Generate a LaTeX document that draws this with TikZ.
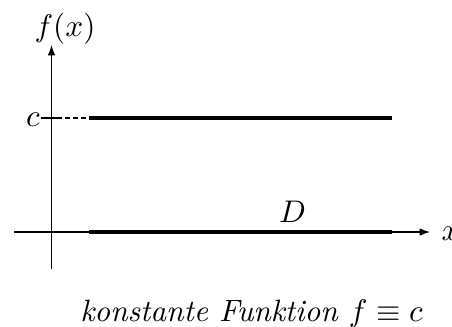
\documentclass[tikz,border=0pt]{standalone}
\usetikzlibrary{arrows.meta}
\begin{document}
\begin{tikzpicture}[x=0.35pt,y=-0.35pt,
  axis/.style={line width=0.4pt,-{Latex[length=3.6pt,width=2.6pt]}},
  graphline/.style={line width=1.45pt},
  guide/.style={line width=0.4pt,dash pattern=on 1.75pt off 1.05pt},
  lbl/.style={inner sep=0pt,anchor=base,font=\fontsize{10.8pt}{13pt}\selectfont}]
\useasboundingbox (0,0) rectangle (452,326);
\coordinate (ybot) at (51.5,269);
\coordinate (ytop) at (51.5,45);
\coordinate (xleft) at (14,232);
\coordinate (xright) at (430,232);
\draw[axis] (ybot) -- (ytop);
\draw[axis] (xleft) -- (xright);
\node[lbl,anchor=base west] (xl) at (441,240) {$x$};
\node[lbl] (fx) at (65,36) {$f(x)$};
\node[lbl] (c) at (33,126.5) {$c$};
\coordinate (tickL) at (41,118);
\coordinate (tickR) at (57,118);
\coordinate (cA) at (89,118);
\coordinate (cB) at (392,118);
\coordinate (dA) at (89,232);
\coordinate (dB) at (392,232);
\draw[line width=0.4pt] (tickL) -- (tickR);
\draw[guide] (tickR) -- (cA);
\draw[graphline] (cA) -- (cB);
\draw[graphline] (dA) -- (dB);
\node[lbl] (D) at (292.5,222) {$D$};
\node[lbl] (cap) at (251.5,321) {\textit{konstante Funktion} $f\equiv c$};
\end{tikzpicture}
\end{document}
